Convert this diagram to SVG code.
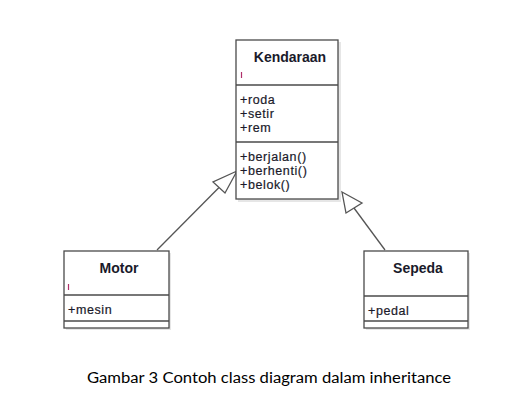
<svg xmlns="http://www.w3.org/2000/svg" width="515" height="413" viewBox="0 0 515 413">
<style>
.box{fill:#fff;stroke:#4a4a4a;stroke-width:1.3}
.shadow{fill:#e6e6e6}
.sep{stroke:#4a4a4a;stroke-width:1.3}
.title{font-family:"Liberation Sans",Arial,sans-serif;font-weight:bold;font-size:14px;fill:#1a1a2a;text-anchor:middle}
.mem{font-family:"Liberation Sans",Arial,sans-serif;font-size:12.5px;letter-spacing:0.6px;fill:#1a1a2a;stroke:#1a1a2a;stroke-width:0.2}
.mark{stroke:#b0306a;stroke-width:1.2}
.conn{stroke:#555;stroke-width:1.3;fill:none}
.head{fill:#fff;stroke:#555;stroke-width:1.3}
.cap{font-family:Lato,"Liberation Sans",sans-serif;font-size:15.5px;fill:#000;text-anchor:middle}
</style>
<rect width="515" height="413" fill="#fff"/>
<g id="connectors">
  <line class="conn" x1="157" y1="250" x2="219" y2="187.5"/>
  <polygon class="head" points="237,171 213,182 225,193"/>
  <line class="conn" x1="385" y1="250" x2="354" y2="208"/>
  <polygon class="head" points="342,192 362,203 346,213"/>
</g>
<g id="kendaraan">
  <rect class="shadow" x="238" y="42" width="103" height="160"/>
  <rect class="box" x="236" y="40" width="102" height="159"/>
  <line class="sep" x1="236" y1="85" x2="338" y2="85"/>
  <line class="sep" x1="236" y1="142" x2="338" y2="142"/>
  <text class="title" x="290" y="62">Kendaraan</text>
  <line class="mark" x1="241.5" y1="72" x2="241.5" y2="78"/>
  <text class="mem" x="240" y="104">+roda</text>
  <text class="mem" x="240" y="118">+setir</text>
  <text class="mem" x="240" y="132">+rem</text>
  <text class="mem" x="240" y="161">+berjalan()</text>
  <text class="mem" x="240" y="175">+berhenti()</text>
  <text class="mem" x="240" y="189">+belok()</text>
</g>
<g id="motor">
  <rect class="shadow" x="66" y="253" width="105" height="77"/>
  <rect class="box" x="64" y="251" width="105" height="77"/>
  <line class="sep" x1="64" y1="295" x2="169" y2="295"/>
  <line class="sep" x1="64" y1="321" x2="169" y2="321"/>
  <text class="title" x="119" y="273">Motor</text>
  <line class="mark" x1="68.5" y1="284" x2="68.5" y2="290"/>
  <text class="mem" x="68" y="314">+mesin</text>
</g>
<g id="sepeda">
  <rect class="shadow" x="366" y="253" width="104" height="77"/>
  <rect class="box" x="364" y="251" width="104" height="77"/>
  <line class="sep" x1="364" y1="296" x2="468" y2="296"/>
  <line class="sep" x1="364" y1="321" x2="468" y2="321"/>
  <text class="title" x="418" y="273">Sepeda</text>
  <text class="mem" x="368" y="315">+pedal</text>
</g>
<text class="cap" x="269" y="383" textLength="364" lengthAdjust="spacingAndGlyphs">Gambar 3 Contoh class diagram dalam inheritance</text>
</svg>
